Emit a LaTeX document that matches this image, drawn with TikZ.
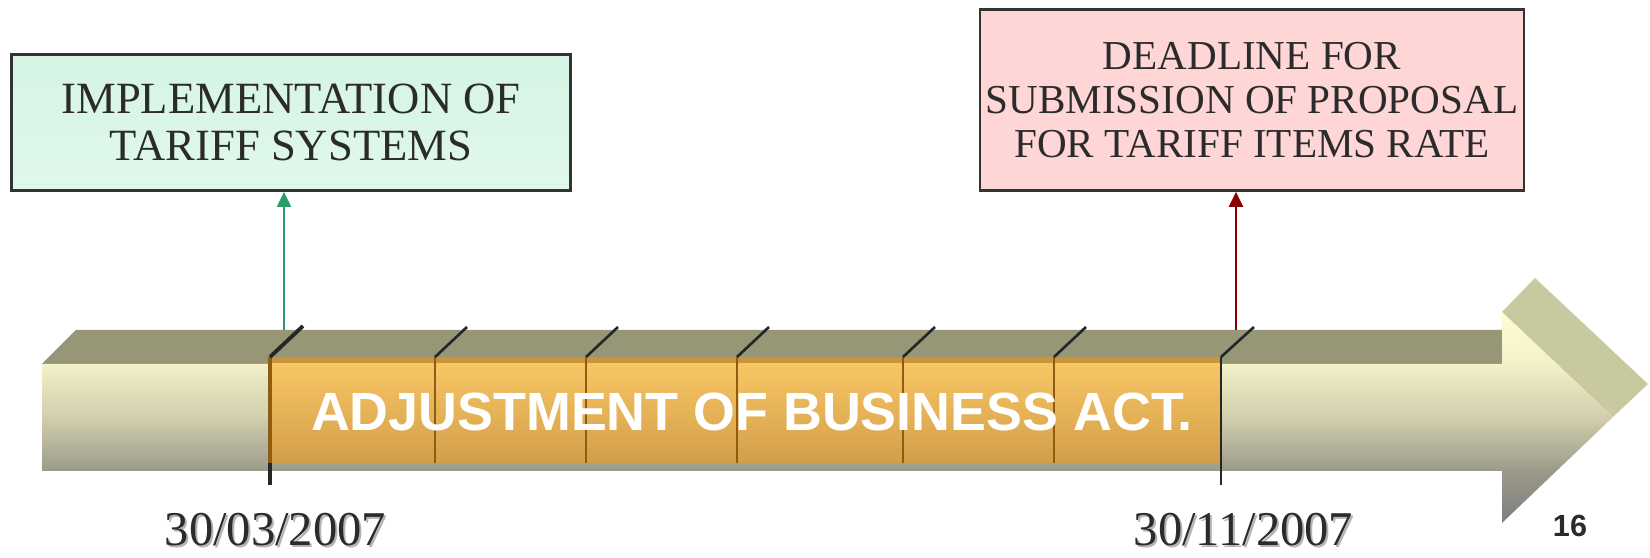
\documentclass[tikz,border=0pt]{standalone}
\usepackage{fontspec}
\setmainfont{Liberation Serif}
\newfontfamily\arialfont{Liberation Sans}
\usetikzlibrary{arrows.meta}
\definecolor{topface}{HTML}{979676}
\definecolor{headback}{HTML}{C9C9A0}
\definecolor{orangetop}{HTML}{F7C664}
\definecolor{orangebot}{HTML}{D29E4A}
\definecolor{orangerim}{HTML}{C9953A}
\definecolor{divbrown}{HTML}{8F5C12}
\definecolor{tickblack}{HTML}{262626}
\definecolor{boxborder}{HTML}{333333}
\definecolor{textdark}{HTML}{2B2B2B}
\definecolor{mintA}{HTML}{D5F4E4}
\definecolor{mintB}{HTML}{E0F8EC}
\definecolor{pinkfill}{HTML}{FFD6D6}
\definecolor{greenline}{HTML}{2E9C6A}
\definecolor{redline}{HTML}{8B0000}
\definecolor{shadowgray}{HTML}{B4B4B4}
\pgfdeclareverticalshading{arrowfront}{100bp}{%
  rgb(0bp)=(0.49,0.49,0.49); rgb(25bp)=(0.49,0.49,0.49);
  rgb(37.3bp)=(0.608,0.604,0.541); rgb(50bp)=(0.816,0.808,0.675);
  rgb(62.7bp)=(0.953,0.945,0.784); rgb(75bp)=(1,0.996,0.827);
  rgb(100bp)=(1,0.996,0.827)}
\tikzset{
  infobox/.style={draw=boxborder, line width=0.7pt, align=center, text=textdark, inner sep=0pt},
  divider/.style={draw=divbrown, line width=0.6pt},
  tickmark/.style={draw=tickblack, line width=0.75pt},
  pointer/.style={line width=0.6pt, -{Triangle[width=4pt,length=4.3pt]}},
  datelabel/.style={font=\fontsize{13.8}{15}\selectfont, anchor=base, inner sep=0pt, text depth=0pt},
}
\begin{document}
\begin{tikzpicture}[x=0.01cm,y=-0.01cm]
\useasboundingbox (0,0) rectangle (1650,558);
% top face of the bar
\fill[topface] (42,364) -- (76,330) -- (1502,330) -- (1502,364) -- cycle;
% back face of the arrow head
\fill[headback] (1502,312) -- (1535,278) -- (1648,384) -- (1613,417) -- cycle;
% front face (bar + head)
\shade[shading=arrowfront] (42,364) -- (1502,364) -- (1502,312) -- (1613,417)
  -- (1502,523) -- (1502,471) -- (42,471) -- cycle;
% orange band
\fill[orangerim] (270,357) rectangle (1221,364);
\shade[top color=orangetop, bottom color=orangebot] (270,364) rectangle (1221,463);
% dividers and ticks
\foreach \x in {435,586,737,903,1054}{
  \draw[divider] (\x,357) -- (\x,463);
  \draw[tickmark] (\x,357) -- (\x+32,327);
}
\draw[draw=divbrown, line width=0.9pt] (270,357) -- (270,463);
\draw[draw=tickblack, line width=0.9pt] (270,463) -- (270,485);
\draw[draw=tickblack, line width=1.1pt] (270,357) -- (303,326);
\draw[tickmark] (1221,357) -- (1221,485);
\draw[tickmark] (1221,357) -- (1254,327);
% band text
\node[font=\arialfont\bfseries\fontsize{15.3}{17}\selectfont, text=white, anchor=base, inner sep=0pt] (band) at (752,431) {ADJUSTMENT OF BUSINESS ACT.};
% boxes
\node[infobox, top color=mintA, bottom color=mintB, minimum width=5.59cm, minimum height=1.36cm,
  font=\fontsize{12.7}{13.4}\selectfont] (lbox) at (291,122.6)
  {IMPLEMENTATION OF\\TARIFF SYSTEMS};
\node[infobox, fill=pinkfill, minimum width=5.44cm, minimum height=1.81cm,
  font=\fontsize{11.7}{12.5}\selectfont] (rbox) at (1252,100)
  {DEADLINE FOR\\SUBMISSION OF PROPOSAL\\FOR TARIFF ITEMS RATE};
% pointers
\coordinate (gbase) at (284,330);
\coordinate (rbase) at (1236,330);
\draw[pointer, draw=greenline, fill=greenline] (gbase) -- (gbase |- lbox.south);
\draw[pointer, draw=redline, fill=redline] (rbase) -- (rbase |- rbox.south);
% dates with shadow
\node[datelabel, text=shadowgray] (d1s) at (277.5,548) {30/03/2007};
\node[datelabel, text=textdark] (d1) at (275.5,546) {30/03/2007};
\node[datelabel, text=shadowgray] (d2s) at (1245.5,548) {30/11/2007};
\node[datelabel, text=textdark] (d2) at (1243.5,546) {30/11/2007};
% page number
\node[font=\arialfont\bfseries\fontsize{8.7}{10}\selectfont, text=textdark, anchor=base, inner sep=0pt] (pg) at (1570,537) {16};
\end{tikzpicture}
\end{document}
